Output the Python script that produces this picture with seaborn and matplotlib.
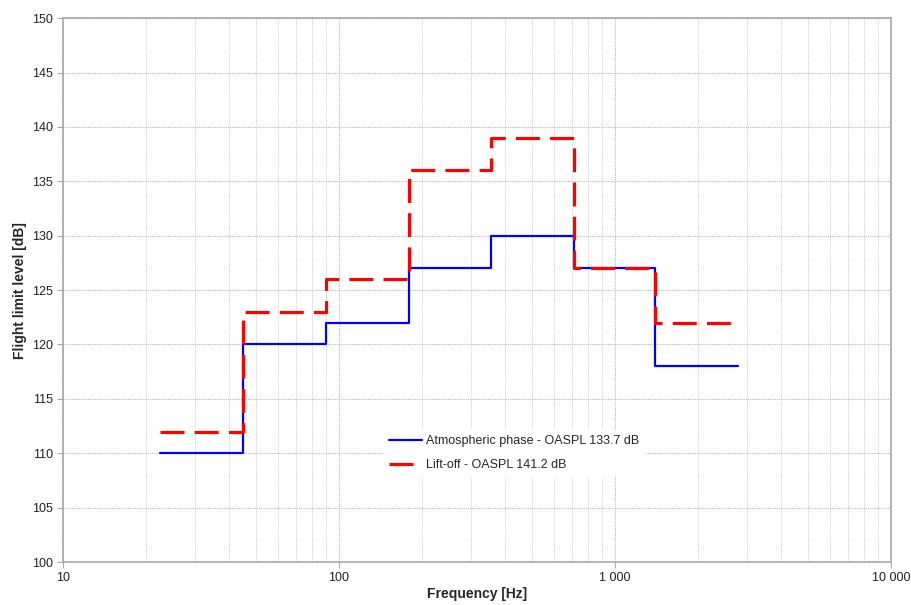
import numpy as np
import pandas as pd
import matplotlib
matplotlib.use("Agg")
import matplotlib.pyplot as plt
import matplotlib.ticker as mticker
import seaborn as sns

# Octave band edges [Hz] and flight limit levels [dB] per band
band_edges = [22.4, 45, 90, 180, 355, 710, 1400, 2800]
atmospheric = [110, 120, 122, 127, 130, 127, 118]
liftoff = [112, 123, 126, 136, 139, 127, 122]
series_names = ["Atmospheric phase - OASPL 133.7 dB", "Lift-off - OASPL 141.2 dB"]
series_colors = ["#0000ff", "#ff0000"]
y_ticks = list(range(100, 151, 5))
x_ticks = [10, 100, 1000, 10000]
x_tick_labels = ["10", "100", "1 000", "10 000"]

sns.set_theme(style="white")
plt.rcParams["font.family"] = ["Liberation Sans", "DejaVu Sans"]

fig = plt.figure(figsize=(9.11, 6.05), dpi=100)
ax = fig.add_axes([0.069, 0.071, 0.909, 0.899])


def step_frame(values, name):
    # steps-post needs the last level repeated at the closing edge
    return pd.DataFrame({
        "freq": band_edges,
        "level": list(values) + [values[-1]],
        "series": name,
    })


sns.lineplot(data=step_frame(atmospheric, series_names[0]), x="freq", y="level",
             ax=ax, color=series_colors[0], lw=1.6, drawstyle="steps-post",
             sort=False, estimator=None, label=series_names[0], zorder=3)
sns.lineplot(data=step_frame(liftoff, series_names[1]), x="freq", y="level",
             ax=ax, color=series_colors[1], lw=2.3, drawstyle="steps-post",
             sort=False, estimator=None, label=series_names[1], zorder=4,
             dashes=False)
ax.lines[-1].set_dashes([7.5, 3.2])

ax.set_xscale("log")
ax.set_xlim(10, 10000)
ax.set_ylim(100, 150)
ax.set_yticks(y_ticks)
ax.xaxis.set_major_locator(mticker.FixedLocator(x_ticks))
ax.xaxis.set_major_formatter(mticker.FixedFormatter(x_tick_labels))
ax.xaxis.set_minor_locator(mticker.LogLocator(base=10, subs=np.arange(2, 10)))
ax.xaxis.set_minor_formatter(mticker.NullFormatter())

ax.grid(True, which="major", axis="both", color="#b8b8b8", ls=(0, (1, 1)), lw=0.8)
ax.grid(True, which="minor", axis="x", color="#cfcfcf", ls=(0, (1, 1)), lw=0.7)
ax.set_axisbelow(True)

for sp in ax.spines.values():
    sp.set_color("#a8a8a8")
    sp.set_linewidth(1.2)

ax.tick_params(axis="both", which="major", direction="out", length=4, width=0.8,
               color="#a8a8a8", labelsize=9, labelcolor="#222222", pad=3,
               bottom=True, left=True)
ax.tick_params(axis="x", which="minor", bottom=False)

ax.set_xlabel("Frequency [Hz]", fontsize=10, fontweight="bold", labelpad=2)
ax.set_ylabel("Flight limit level [dB]", fontsize=10, fontweight="bold", labelpad=4)

leg = ax.legend(loc="upper left", bbox_to_anchor=(0.379, 0.256), fontsize=9,
                frameon=True, framealpha=1, facecolor="white", edgecolor="white",
                handlelength=2.6, handletextpad=0.35, labelspacing=0.95,
                borderpad=0.5, fancybox=False)
leg.get_frame().set_linewidth(0)

fig.savefig("out.png", dpi=100)
